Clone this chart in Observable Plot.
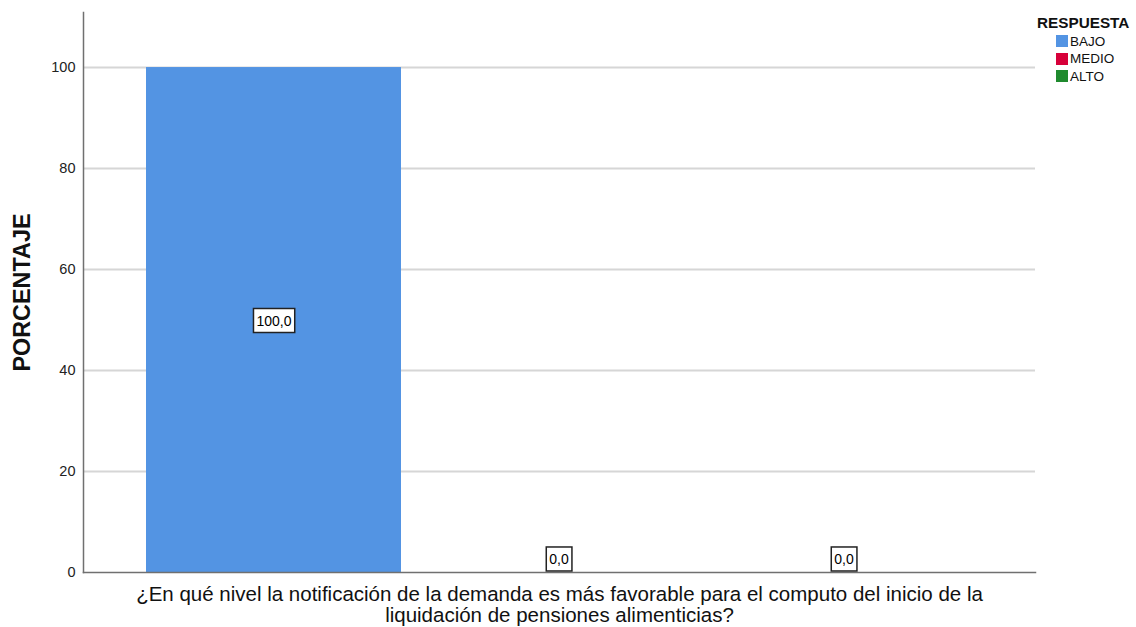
<!DOCTYPE html>
<html><head><meta charset="utf-8">
<script src="https://cdn.jsdelivr.net/npm/d3@7"></script>
<script src="https://cdn.jsdelivr.net/npm/@observablehq/plot@0.6"></script>
<style>
body{margin:0;background:#fff;font-family:"Liberation Sans",Arial,sans-serif;}
#wrap{position:relative;width:1136px;height:627px;}
#legend{position:absolute;left:1037px;top:14px;font-size:13.5px;color:#111;line-height:17.5px;}
#legend .t{font-weight:bold;font-size:15.3px;margin-bottom:1px;}
#legend .i{display:flex;align-items:center;padding-left:19px;}
#legend .s{width:12px;height:12px;margin-right:2px;}
</style></head><body><div id="wrap"><div id="chart"></div><div id="legend"></div></div>
<script>
const categories = ["BAJO", "MEDIO", "ALTO"];
const percentages = [100.0, 0.0, 0.0];
const colors = ["#5394E3", "#D7003A", "#1F8A2E"];
const yTicks = [0, 20, 40, 60, 80, 100];
const xTitle = "¿En qué nivel la notificación de la demanda es más favorable para el computo del inicio de la\nliquidación de pensiones alimenticias?";
const yTitle = "PORCENTAJE";
const legendTitle = "RESPUESTA";

const data = categories.map((c, i) => ({cat: c, value: percentages[i]}));
const fmt = v => v.toFixed(1).replace(".", ",");
const font = '"Liberation Sans", Arial, sans-serif';

const chart = Plot.plot({
  width: 1136, height: 627,
  marginLeft: 83, marginRight: 101, marginTop: 12, marginBottom: 55,
  style: {fontFamily: font, fontSize: "14.5px", color: "#222", background: "#fff"},
  x: {domain: categories, axis: null, paddingInner: 0.105, paddingOuter: 0.217},
  y: {domain: [0, 110.9], ticks: yTicks, tickSize: 0, tickPadding: 8, label: null},
  color: {domain: categories, range: colors},
  marks: [
    Plot.gridY(yTicks.filter(t => t > 0), {stroke: "#d6d6d6", strokeOpacity: 1, strokeWidth: 2}),
    Plot.barY(data, {x: "cat", y: "value", fill: "cat"}),
    Plot.frame({anchor: "left", stroke: "#707070", strokeWidth: 1.5}),
    Plot.frame({anchor: "bottom", stroke: "#707070", strokeWidth: 1.5}),
    Plot.text(data.filter(d => d.value > 0), {x: "cat", y: d => d.value / 2, text: d => fmt(d.value), fill: "#000", fontSize: 14, dy: 1}),
    Plot.text(data.filter(d => d.value === 0), {x: "cat", y: d => d.value, text: d => fmt(d.value), fill: "#000", fontSize: 14, dy: -13}),
    Plot.text([xTitle], {frameAnchor: "bottom", lineAnchor: "top", dy: 14, fontSize: 20.5, lineHeight: 1.02, fill: "#111"}),
    Plot.text([yTitle], {frameAnchor: "left", textAnchor: "middle", rotate: -90, dx: -61, fontSize: 23.4, fontWeight: "bold", fill: "#111"})
  ]
});
document.getElementById("chart").appendChild(chart);

// boxes behind value labels (texts formatted like "100,0")
d3.select(chart).selectAll("text").filter(function() {
  return /^\d+,\d$/.test(this.textContent);
}).each(function() {
  const b = this.getBBox();
  const px = 3, py = 4;
  const r = document.createElementNS("http://www.w3.org/2000/svg", "rect");
  r.setAttribute("x", b.x - px); r.setAttribute("y", b.y - py);
  r.setAttribute("width", b.width + 2 * px); r.setAttribute("height", b.height + 2 * py);
  r.setAttribute("fill", "#fff"); r.setAttribute("stroke", "#222"); r.setAttribute("stroke-width", 1.5);
  const t = this.getAttribute("transform"); if (t) r.setAttribute("transform", t);
  this.parentNode.insertBefore(r, this);
});

const lg = d3.select("#legend");
lg.append("div").attr("class", "t").text(legendTitle);
categories.forEach((c, i) => {
  const it = lg.append("div").attr("class", "i");
  it.append("div").attr("class", "s").style("background", colors[i]);
  it.append("span").text(c);
});
</script></body></html>
